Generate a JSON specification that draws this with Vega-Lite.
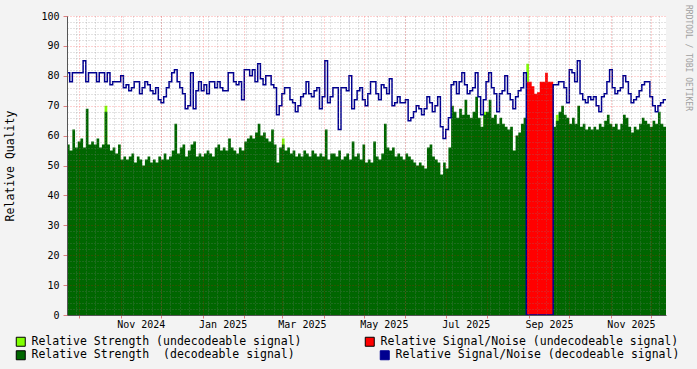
{
  "$schema": "https://vega.github.io/schema/vega-lite/v6.json",
  "width": 599,
  "height": 299,
  "autosize": {"type": "none"},
  "padding": {"left": 67, "top": 16, "right": 31, "bottom": 54},
  "background": "#F3F3F3",
  "title": {"text": "RRDTOOL / TOBI OETIKER", "orient": "right", "anchor": "start", "frame": "group", "font": "DejaVu Sans Mono", "fontSize": 8, "fontWeight": "normal", "color": "#A0A0A0", "offset": 4, "dx": -11},
  "config": {
    "view": {"stroke": null, "fill": "#FFFFFF"},
    "font": "DejaVu Sans Mono",
    "legend": {"orient": "none", "title": null, "padding": 0, "labelFont": "DejaVu Sans Mono", "labelFontSize": 11.5, "labelColor": "#000000", "labelOffset": 5, "labelLimit": 400, "symbolType": "square", "symbolSize": 81, "symbolStrokeColor": "#000000", "symbolStrokeWidth": 1}
  },
  "data": {"values": [
    {"d":"2024-09-22","rs":57,"rsu":0,"sn":81,"snu":0},
    {"d":"2024-09-24","rs":55,"rsu":0,"sn":78,"snu":0},
    {"d":"2024-09-26","rs":62,"rsu":0,"sn":81,"snu":0},
    {"d":"2024-09-28","rs":56,"rsu":0,"sn":81,"snu":0},
    {"d":"2024-09-30","rs":58,"rsu":0,"sn":81,"snu":0},
    {"d":"2024-10-02","rs":59,"rsu":0,"sn":81,"snu":0},
    {"d":"2024-10-04","rs":56,"rsu":0,"sn":85,"snu":0},
    {"d":"2024-10-06","rs":69,"rsu":0,"sn":78,"snu":0},
    {"d":"2024-10-08","rs":57,"rsu":0,"sn":81,"snu":0},
    {"d":"2024-10-10","rs":58,"rsu":0,"sn":81,"snu":0},
    {"d":"2024-10-12","rs":57,"rsu":0,"sn":81,"snu":0},
    {"d":"2024-10-14","rs":59,"rsu":0,"sn":78,"snu":0},
    {"d":"2024-10-16","rs":56,"rsu":0,"sn":81,"snu":0},
    {"d":"2024-10-18","rs":57,"rsu":0,"sn":81,"snu":0},
    {"d":"2024-10-20","rs":68,"rsu":70,"sn":78,"snu":0},
    {"d":"2024-10-22","rs":57,"rsu":0,"sn":81,"snu":0},
    {"d":"2024-10-24","rs":55,"rsu":0,"sn":77,"snu":0},
    {"d":"2024-10-26","rs":56,"rsu":0,"sn":78,"snu":0},
    {"d":"2024-10-28","rs":54,"rsu":0,"sn":78,"snu":0},
    {"d":"2024-10-30","rs":57,"rsu":0,"sn":78,"snu":0},
    {"d":"2024-11-01","rs":52,"rsu":0,"sn":80,"snu":0},
    {"d":"2024-11-03","rs":53,"rsu":0,"sn":76,"snu":0},
    {"d":"2024-11-05","rs":52,"rsu":0,"sn":77,"snu":0},
    {"d":"2024-11-07","rs":53,"rsu":0,"sn":75,"snu":0},
    {"d":"2024-11-09","rs":54,"rsu":0,"sn":76,"snu":0},
    {"d":"2024-11-11","rs":51,"rsu":0,"sn":78,"snu":0},
    {"d":"2024-11-13","rs":53,"rsu":0,"sn":78,"snu":0},
    {"d":"2024-11-15","rs":52,"rsu":0,"sn":74,"snu":0},
    {"d":"2024-11-17","rs":50,"rsu":0,"sn":76,"snu":0},
    {"d":"2024-11-19","rs":52,"rsu":0,"sn":78,"snu":0},
    {"d":"2024-11-21","rs":53,"rsu":0,"sn":77,"snu":0},
    {"d":"2024-11-23","rs":51,"rsu":0,"sn":75,"snu":0},
    {"d":"2024-11-25","rs":52,"rsu":0,"sn":74,"snu":0},
    {"d":"2024-11-27","rs":51,"rsu":0,"sn":76,"snu":0},
    {"d":"2024-11-29","rs":53,"rsu":0,"sn":72,"snu":0},
    {"d":"2024-12-01","rs":52,"rsu":0,"sn":71,"snu":0},
    {"d":"2024-12-03","rs":54,"rsu":0,"sn":73,"snu":0},
    {"d":"2024-12-05","rs":52,"rsu":0,"sn":76,"snu":0},
    {"d":"2024-12-07","rs":53,"rsu":0,"sn":78,"snu":0},
    {"d":"2024-12-09","rs":55,"rsu":0,"sn":81,"snu":0},
    {"d":"2024-12-11","rs":64,"rsu":0,"sn":82,"snu":0},
    {"d":"2024-12-13","rs":54,"rsu":0,"sn":78,"snu":0},
    {"d":"2024-12-15","rs":56,"rsu":0,"sn":76,"snu":0},
    {"d":"2024-12-17","rs":57,"rsu":0,"sn":74,"snu":0},
    {"d":"2024-12-19","rs":53,"rsu":0,"sn":69,"snu":0},
    {"d":"2024-12-21","rs":55,"rsu":0,"sn":70,"snu":0},
    {"d":"2024-12-23","rs":57,"rsu":0,"sn":81,"snu":0},
    {"d":"2024-12-25","rs":58,"rsu":0,"sn":69,"snu":0},
    {"d":"2024-12-27","rs":53,"rsu":0,"sn":75,"snu":0},
    {"d":"2024-12-29","rs":54,"rsu":0,"sn":78,"snu":0},
    {"d":"2024-12-31","rs":53,"rsu":0,"sn":75,"snu":0},
    {"d":"2025-01-02","rs":54,"rsu":0,"sn":77,"snu":0},
    {"d":"2025-01-04","rs":55,"rsu":0,"sn":74,"snu":0},
    {"d":"2025-01-06","rs":54,"rsu":0,"sn":78,"snu":0},
    {"d":"2025-01-08","rs":53,"rsu":0,"sn":78,"snu":0},
    {"d":"2025-01-10","rs":56,"rsu":0,"sn":76,"snu":0},
    {"d":"2025-01-12","rs":57,"rsu":0,"sn":78,"snu":0},
    {"d":"2025-01-14","rs":55,"rsu":0,"sn":76,"snu":0},
    {"d":"2025-01-16","rs":56,"rsu":0,"sn":75,"snu":0},
    {"d":"2025-01-18","rs":55,"rsu":0,"sn":75,"snu":0},
    {"d":"2025-01-20","rs":59,"rsu":0,"sn":81,"snu":0},
    {"d":"2025-01-22","rs":56,"rsu":0,"sn":81,"snu":0},
    {"d":"2025-01-24","rs":55,"rsu":0,"sn":78,"snu":0},
    {"d":"2025-01-26","rs":54,"rsu":0,"sn":77,"snu":0},
    {"d":"2025-01-28","rs":56,"rsu":0,"sn":78,"snu":0},
    {"d":"2025-01-30","rs":55,"rsu":0,"sn":72,"snu":0},
    {"d":"2025-02-01","rs":58,"rsu":0,"sn":82,"snu":0},
    {"d":"2025-02-03","rs":59,"rsu":0,"sn":82,"snu":0},
    {"d":"2025-02-05","rs":60,"rsu":0,"sn":80,"snu":0},
    {"d":"2025-02-07","rs":59,"rsu":0,"sn":82,"snu":0},
    {"d":"2025-02-09","rs":61,"rsu":0,"sn":78,"snu":0},
    {"d":"2025-02-11","rs":64,"rsu":0,"sn":84,"snu":0},
    {"d":"2025-02-13","rs":60,"rsu":0,"sn":79,"snu":0},
    {"d":"2025-02-15","rs":61,"rsu":0,"sn":77,"snu":0},
    {"d":"2025-02-17","rs":59,"rsu":0,"sn":80,"snu":0},
    {"d":"2025-02-19","rs":58,"rsu":0,"sn":80,"snu":0},
    {"d":"2025-02-21","rs":62,"rsu":0,"sn":77,"snu":0},
    {"d":"2025-02-23","rs":57,"rsu":0,"sn":76,"snu":0},
    {"d":"2025-02-25","rs":51,"rsu":0,"sn":67,"snu":0},
    {"d":"2025-02-27","rs":56,"rsu":0,"sn":70,"snu":0},
    {"d":"2025-03-01","rs":57,"rsu":59,"sn":74,"snu":0},
    {"d":"2025-03-03","rs":55,"rsu":0,"sn":76,"snu":0},
    {"d":"2025-03-05","rs":56,"rsu":0,"sn":76,"snu":0},
    {"d":"2025-03-07","rs":54,"rsu":0,"sn":72,"snu":0},
    {"d":"2025-03-09","rs":55,"rsu":0,"sn":71,"snu":0},
    {"d":"2025-03-11","rs":53,"rsu":0,"sn":68,"snu":0},
    {"d":"2025-03-13","rs":54,"rsu":0,"sn":70,"snu":0},
    {"d":"2025-03-15","rs":53,"rsu":0,"sn":73,"snu":0},
    {"d":"2025-03-17","rs":55,"rsu":0,"sn":74,"snu":0},
    {"d":"2025-03-19","rs":54,"rsu":0,"sn":78,"snu":0},
    {"d":"2025-03-21","rs":53,"rsu":0,"sn":74,"snu":0},
    {"d":"2025-03-23","rs":55,"rsu":0,"sn":73,"snu":0},
    {"d":"2025-03-25","rs":54,"rsu":0,"sn":75,"snu":0},
    {"d":"2025-03-27","rs":53,"rsu":0,"sn":76,"snu":0},
    {"d":"2025-03-29","rs":54,"rsu":0,"sn":69,"snu":0},
    {"d":"2025-03-31","rs":53,"rsu":0,"sn":73,"snu":0},
    {"d":"2025-04-02","rs":62,"rsu":0,"sn":85,"snu":0},
    {"d":"2025-04-04","rs":52,"rsu":0,"sn":71,"snu":0},
    {"d":"2025-04-06","rs":54,"rsu":0,"sn":73,"snu":0},
    {"d":"2025-04-08","rs":54,"rsu":0,"sn":76,"snu":0},
    {"d":"2025-04-10","rs":53,"rsu":0,"sn":76,"snu":0},
    {"d":"2025-04-12","rs":55,"rsu":0,"sn":62,"snu":0},
    {"d":"2025-04-14","rs":52,"rsu":0,"sn":76,"snu":0},
    {"d":"2025-04-16","rs":53,"rsu":0,"sn":76,"snu":0},
    {"d":"2025-04-18","rs":54,"rsu":0,"sn":75,"snu":0},
    {"d":"2025-04-20","rs":52,"rsu":0,"sn":80,"snu":0},
    {"d":"2025-04-22","rs":58,"rsu":0,"sn":69,"snu":0},
    {"d":"2025-04-24","rs":53,"rsu":0,"sn":72,"snu":0},
    {"d":"2025-04-26","rs":54,"rsu":0,"sn":75,"snu":0},
    {"d":"2025-04-28","rs":52,"rsu":0,"sn":76,"snu":0},
    {"d":"2025-04-30","rs":57,"rsu":0,"sn":72,"snu":0},
    {"d":"2025-05-02","rs":51,"rsu":0,"sn":70,"snu":0},
    {"d":"2025-05-04","rs":52,"rsu":0,"sn":74,"snu":0},
    {"d":"2025-05-06","rs":51,"rsu":0,"sn":78,"snu":0},
    {"d":"2025-05-08","rs":58,"rsu":0,"sn":78,"snu":0},
    {"d":"2025-05-10","rs":53,"rsu":0,"sn":74,"snu":0},
    {"d":"2025-05-12","rs":52,"rsu":0,"sn":72,"snu":0},
    {"d":"2025-05-14","rs":54,"rsu":0,"sn":77,"snu":0},
    {"d":"2025-05-16","rs":64,"rsu":0,"sn":76,"snu":0},
    {"d":"2025-05-18","rs":56,"rsu":0,"sn":74,"snu":0},
    {"d":"2025-05-20","rs":55,"rsu":0,"sn":79,"snu":0},
    {"d":"2025-05-22","rs":56,"rsu":0,"sn":70,"snu":0},
    {"d":"2025-05-24","rs":53,"rsu":0,"sn":71,"snu":0},
    {"d":"2025-05-26","rs":54,"rsu":0,"sn":73,"snu":0},
    {"d":"2025-05-28","rs":53,"rsu":0,"sn":71,"snu":0},
    {"d":"2025-05-30","rs":52,"rsu":0,"sn":71,"snu":0},
    {"d":"2025-06-01","rs":54,"rsu":0,"sn":72,"snu":0},
    {"d":"2025-06-03","rs":53,"rsu":0,"sn":65,"snu":0},
    {"d":"2025-06-05","rs":52,"rsu":0,"sn":66,"snu":0},
    {"d":"2025-06-07","rs":51,"rsu":0,"sn":68,"snu":0},
    {"d":"2025-06-09","rs":50,"rsu":0,"sn":70,"snu":0},
    {"d":"2025-06-11","rs":51,"rsu":0,"sn":69,"snu":0},
    {"d":"2025-06-13","rs":50,"rsu":0,"sn":67,"snu":0},
    {"d":"2025-06-15","rs":49,"rsu":0,"sn":69,"snu":0},
    {"d":"2025-06-17","rs":56,"rsu":0,"sn":73,"snu":0},
    {"d":"2025-06-19","rs":57,"rsu":0,"sn":71,"snu":0},
    {"d":"2025-06-21","rs":53,"rsu":0,"sn":68,"snu":0},
    {"d":"2025-06-23","rs":52,"rsu":0,"sn":70,"snu":0},
    {"d":"2025-06-25","rs":51,"rsu":0,"sn":73,"snu":0},
    {"d":"2025-06-27","rs":47,"rsu":0,"sn":63,"snu":0},
    {"d":"2025-06-29","rs":51,"rsu":0,"sn":59,"snu":0},
    {"d":"2025-07-01","rs":49,"rsu":0,"sn":62,"snu":0},
    {"d":"2025-07-03","rs":56,"rsu":0,"sn":66,"snu":0},
    {"d":"2025-07-05","rs":70,"rsu":0,"sn":77,"snu":0},
    {"d":"2025-07-07","rs":68,"rsu":0,"sn":78,"snu":0},
    {"d":"2025-07-09","rs":66,"rsu":0,"sn":74,"snu":0},
    {"d":"2025-07-11","rs":69,"rsu":0,"sn":78,"snu":0},
    {"d":"2025-07-13","rs":67,"rsu":0,"sn":81,"snu":0},
    {"d":"2025-07-15","rs":72,"rsu":0,"sn":77,"snu":0},
    {"d":"2025-07-17","rs":67,"rsu":0,"sn":74,"snu":0},
    {"d":"2025-07-19","rs":66,"rsu":0,"sn":75,"snu":0},
    {"d":"2025-07-21","rs":68,"rsu":0,"sn":76,"snu":0},
    {"d":"2025-07-23","rs":73,"rsu":0,"sn":81,"snu":0},
    {"d":"2025-07-25","rs":66,"rsu":0,"sn":73,"snu":0},
    {"d":"2025-07-27","rs":63,"rsu":0,"sn":67,"snu":0},
    {"d":"2025-07-29","rs":67,"rsu":68,"sn":72,"snu":0},
    {"d":"2025-07-31","rs":68,"rsu":0,"sn":78,"snu":0},
    {"d":"2025-08-02","rs":72,"rsu":0,"sn":81,"snu":0},
    {"d":"2025-08-04","rs":66,"rsu":0,"sn":76,"snu":0},
    {"d":"2025-08-06","rs":67,"rsu":0,"sn":74,"snu":0},
    {"d":"2025-08-08","rs":64,"rsu":0,"sn":68,"snu":0},
    {"d":"2025-08-10","rs":66,"rsu":0,"sn":74,"snu":0},
    {"d":"2025-08-12","rs":64,"rsu":0,"sn":75,"snu":0},
    {"d":"2025-08-14","rs":63,"rsu":0,"sn":80,"snu":0},
    {"d":"2025-08-16","rs":62,"rsu":0,"sn":74,"snu":0},
    {"d":"2025-08-18","rs":63,"rsu":0,"sn":72,"snu":0},
    {"d":"2025-08-20","rs":55,"rsu":0,"sn":69,"snu":0},
    {"d":"2025-08-22","rs":60,"rsu":0,"sn":73,"snu":0},
    {"d":"2025-08-24","rs":61,"rsu":0,"sn":75,"snu":0},
    {"d":"2025-08-26","rs":64,"rsu":0,"sn":76,"snu":0},
    {"d":"2025-08-28","rs":66,"rsu":0,"sn":81,"snu":0},
    {"d":"2025-08-30","rs":0,"rsu":84,"sn":0,"snu":78},
    {"d":"2025-09-01","rs":0,"rsu":0,"sn":0,"snu":78},
    {"d":"2025-09-03","rs":0,"rsu":0,"sn":0,"snu":76.5},
    {"d":"2025-09-05","rs":0,"rsu":0,"sn":0,"snu":74},
    {"d":"2025-09-07","rs":0,"rsu":0,"sn":0,"snu":74.5},
    {"d":"2025-09-09","rs":0,"rsu":0,"sn":0,"snu":78},
    {"d":"2025-09-11","rs":0,"rsu":0,"sn":0,"snu":78},
    {"d":"2025-09-13","rs":0,"rsu":0,"sn":0,"snu":81},
    {"d":"2025-09-15","rs":0,"rsu":0,"sn":0,"snu":78},
    {"d":"2025-09-17","rs":0,"rsu":0,"sn":0,"snu":78},
    {"d":"2025-09-19","rs":63,"rsu":0,"sn":77,"snu":0},
    {"d":"2025-09-21","rs":65,"rsu":67,"sn":77,"snu":0},
    {"d":"2025-09-23","rs":68,"rsu":0,"sn":78,"snu":0},
    {"d":"2025-09-25","rs":70,"rsu":0,"sn":78,"snu":0},
    {"d":"2025-09-27","rs":67,"rsu":0,"sn":76,"snu":0},
    {"d":"2025-09-29","rs":66,"rsu":0,"sn":71,"snu":0},
    {"d":"2025-10-01","rs":64,"rsu":0,"sn":82,"snu":0},
    {"d":"2025-10-03","rs":66,"rsu":0,"sn":81,"snu":0},
    {"d":"2025-10-05","rs":64,"rsu":0,"sn":78,"snu":0},
    {"d":"2025-10-07","rs":70,"rsu":0,"sn":85,"snu":0},
    {"d":"2025-10-09","rs":63,"rsu":0,"sn":74,"snu":0},
    {"d":"2025-10-11","rs":64,"rsu":0,"sn":72,"snu":0},
    {"d":"2025-10-13","rs":62,"rsu":0,"sn":71,"snu":0},
    {"d":"2025-10-15","rs":63,"rsu":0,"sn":73,"snu":0},
    {"d":"2025-10-17","rs":62,"rsu":0,"sn":72,"snu":0},
    {"d":"2025-10-19","rs":63,"rsu":0,"sn":73,"snu":0},
    {"d":"2025-10-21","rs":62,"rsu":0,"sn":70,"snu":0},
    {"d":"2025-10-23","rs":64,"rsu":0,"sn":68,"snu":0},
    {"d":"2025-10-25","rs":63,"rsu":0,"sn":73,"snu":0},
    {"d":"2025-10-27","rs":65,"rsu":0,"sn":74,"snu":0},
    {"d":"2025-10-29","rs":67,"rsu":0,"sn":78,"snu":0},
    {"d":"2025-10-31","rs":64,"rsu":0,"sn":82,"snu":0},
    {"d":"2025-11-02","rs":63,"rsu":0,"sn":76,"snu":0},
    {"d":"2025-11-04","rs":64,"rsu":0,"sn":74,"snu":0},
    {"d":"2025-11-06","rs":62,"rsu":0,"sn":75,"snu":0},
    {"d":"2025-11-08","rs":64,"rsu":0,"sn":76,"snu":0},
    {"d":"2025-11-10","rs":67,"rsu":0,"sn":80,"snu":0},
    {"d":"2025-11-12","rs":66,"rsu":0,"sn":78,"snu":0},
    {"d":"2025-11-14","rs":63,"rsu":0,"sn":74,"snu":0},
    {"d":"2025-11-16","rs":61,"rsu":0,"sn":71,"snu":0},
    {"d":"2025-11-18","rs":63,"rsu":0,"sn":72,"snu":0},
    {"d":"2025-11-20","rs":62,"rsu":0,"sn":73,"snu":0},
    {"d":"2025-11-22","rs":64,"rsu":0,"sn":75,"snu":0},
    {"d":"2025-11-24","rs":66,"rsu":0,"sn":77,"snu":0},
    {"d":"2025-11-26","rs":65,"rsu":0,"sn":78,"snu":0},
    {"d":"2025-11-28","rs":64,"rsu":0,"sn":78,"snu":0},
    {"d":"2025-11-30","rs":63,"rsu":0,"sn":73,"snu":0},
    {"d":"2025-12-02","rs":65,"rsu":0,"sn":70,"snu":0},
    {"d":"2025-12-04","rs":64,"rsu":0,"sn":68,"snu":0},
    {"d":"2025-12-06","rs":68,"rsu":0,"sn":70,"snu":0},
    {"d":"2025-12-08","rs":64,"rsu":0,"sn":71,"snu":0},
    {"d":"2025-12-10","rs":63,"rsu":0,"sn":72,"snu":0},
    {"d":"2025-12-12","rs":63,"rsu":0,"sn":72,"snu":0}
  ]},
  "layer": [
    {
      "mark": {"type": "area", "interpolate": "step-after"},
      "encoding": {
        "x": {"field": "d", "type": "temporal",
              "scale": {"type": "utc", "domain": [{"year": 2024, "month": 9, "date": 22, "utc": true}, {"year": 2025, "month": 12, "date": 12, "utc": true}]},
              "axis": {"orient": "bottom", "tickCount": {"interval": "week", "step": 1}, "labels": false, "ticks": false, "domain": false, "grid": true, "gridColor": "#808080", "gridOpacity": 0.45, "gridDash": [1, 2], "title": null, "zindex": 1}},
        "y": {"field": "rsu", "type": "quantitative", "stack": null,
              "scale": {"domain": [0, 100], "nice": false},
              "axis": {"orient": "left", "values": [2,4,6,8,12,14,16,18,22,24,26,28,32,34,36,38,42,44,46,48,52,54,56,58,62,64,66,68,72,74,76,78,82,84,86,88,92,94,96,98], "labels": false, "ticks": false, "domain": false, "grid": true, "gridColor": "#808080", "gridOpacity": 0.45, "gridDash": [1, 2], "title": null, "zindex": 1}},
        "color": {"datum": "Relative Strength (undecodeable signal)", "type": "nominal",
          "scale": {"range": ["#80FF00"]},
          "legend": {"legendX": -52, "legendY": 320,
                     "encode": {"symbols": {"update": {"fill": {"value": "#80FF00"}, "stroke": {"value": "#000000"}, "strokeWidth": {"value": 1}, "opacity": {"value": 1}, "fillOpacity": {"value": 1}, "shape": {"value": "square"}}}}}}
      }
    },
    {
      "mark": {"type": "area", "interpolate": "step-after"},
      "encoding": {
        "x": {"field": "d", "type": "temporal", "axis": null},
        "y": {"field": "rs", "type": "quantitative", "stack": null, "axis": null},
        "color": {"datum": "Relative Strength\u00a0 (decodeable signal)", "type": "nominal",
          "scale": {"range": ["#006600"]},
          "legend": {"legendX": -52, "legendY": 333.5,
                     "encode": {"symbols": {"update": {"fill": {"value": "#006600"}, "stroke": {"value": "#000000"}, "strokeWidth": {"value": 1}, "opacity": {"value": 1}, "fillOpacity": {"value": 1}, "shape": {"value": "square"}}}}}}
      }
    },
    {
      "mark": {"type": "area", "interpolate": "step-after"},
      "encoding": {
        "x": {"field": "d", "type": "temporal", "axis": null},
        "y": {"field": "snu", "type": "quantitative", "stack": null, "axis": null},
        "color": {"datum": "Relative Signal/Noise (undecodeable signal)", "type": "nominal",
          "scale": {"range": ["#FF0000"]},
          "legend": {"legendX": 297, "legendY": 320,
                     "encode": {"symbols": {"update": {"fill": {"value": "#FF0000"}, "stroke": {"value": "#000000"}, "strokeWidth": {"value": 1}, "opacity": {"value": 1}, "fillOpacity": {"value": 1}, "shape": {"value": "square"}}}}}}
      }
    },
    {
      "mark": {"type": "line", "interpolate": "step-after", "strokeWidth": 1.5},
      "encoding": {
        "x": {"field": "d", "type": "temporal",
              "axis": {"orient": "bottom", "tickCount": {"interval": "month", "step": 1},
                       "labelExpr": "utcmonth(datum.value) % 2 == 0 ? utcFormat(datum.value, '%b %Y') : ''",
                       "labelOffset": 20, "labelFont": "DejaVu Sans Mono", "labelFontSize": 10, "labelColor": "#000000", "labelPadding": 1, "labelFlush": false, "labelOverlap": false,
                       "tickSize": 3, "tickColor": "#E08080", "grid": true, "gridColor": "#FF0000", "gridOpacity": 0.35, "gridDash": [1, 2], "domainColor": "#555555", "title": null, "zindex": 1}},
        "y": {"field": "sn", "type": "quantitative", "stack": null,
              "axis": {"orient": "left", "values": [0,10,20,30,40,50,60,70,80,90,100], "labelFont": "DejaVu Sans Mono", "labelFontSize": 10, "labelColor": "#000000", "labelPadding": 4,
                       "tickSize": 4, "tickColor": "#E08080", "grid": true, "gridColor": "#FF0000", "gridOpacity": 0.35, "gridDash": [1, 2], "domainColor": "#555555",
                       "title": "Relative Quality", "titleFont": "DejaVu Sans Mono", "titleFontSize": 11.5, "titleFontWeight": "normal", "titleColor": "#000000", "titlePadding": 25, "zindex": 1}},
        "color": {"datum": "Relative Signal/Noise (decodeable signal)", "type": "nominal",
          "scale": {"range": ["#000090"]},
          "legend": {"legendX": 312, "legendY": 333.5, "symbolType": "square",
                     "encode": {"symbols": {"update": {"fill": {"value": "#000090"}, "stroke": {"value": "#000000"}, "strokeWidth": {"value": 1}, "opacity": {"value": 1}, "fillOpacity": {"value": 1}, "shape": {"value": "square"}, "size": {"value": 81}}}}}}
      }
    }
  ],
  "resolve": {"axis": {"x": "independent", "y": "independent"}, "scale": {"color": "independent"}}
}
